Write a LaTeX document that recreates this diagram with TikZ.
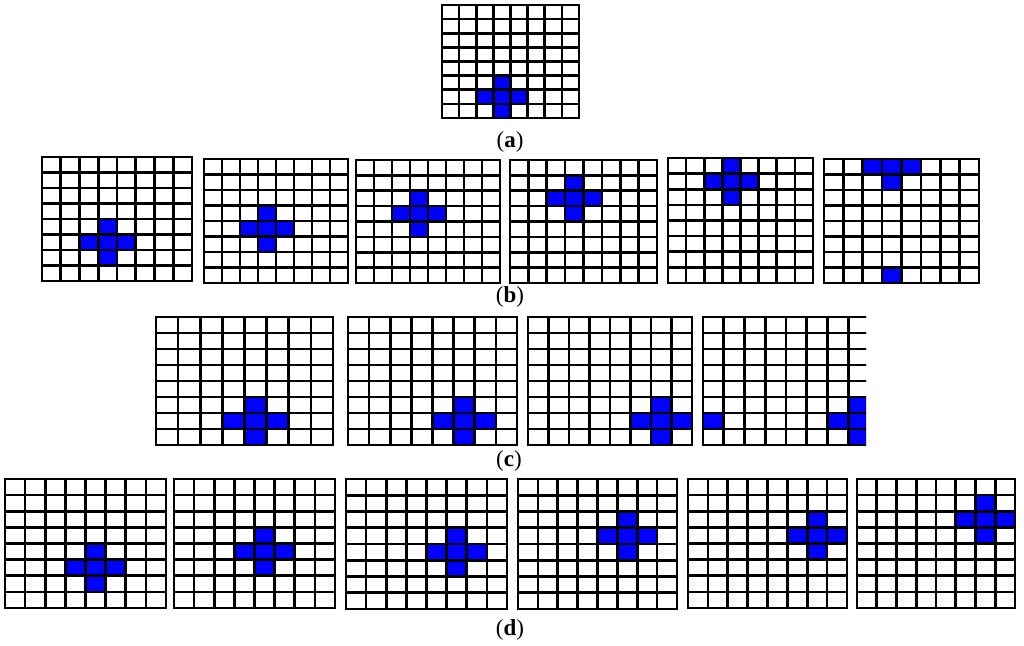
\documentclass[tikz,border=0pt]{standalone}
\usepackage{fontspec}
\setmainfont{Liberation Serif}
\definecolor{cellblue}{RGB}{0,0,255}
\tikzset{
  gridline/.style={black, line width=2.6pt, line cap=rect},
  bluecell/.style={fill=cellblue},
  caption/.style={font=\fontsize{23}{26}\selectfont, inner sep=0pt}
}
\newcommand{\gridpic}[5]{%
  \begin{scope}[shift={(#1,#2)}]
    \pgfmathsetmacro\gcw{(#3-#1)/8}
    \pgfmathsetmacro\gch{(#4-#2)/8}
    \foreach \c/\r in {#5} {\fill[bluecell] (\c*\gcw,\r*\gch) rectangle ++(\gcw,\gch);}
    \foreach \i in {0,...,8} {
      \draw[gridline] (\i*\gcw,0) -- (\i*\gcw,8*\gch);
      \draw[gridline] (0,\i*\gch) -- (8*\gcw,\i*\gch);
    }
  \end{scope}}
\begin{document}
\begin{tikzpicture}[x=1pt,y=-1pt]
  \useasboundingbox (0,0) rectangle (1024,645);
  \fill[white] (0,0) rectangle (1024,645);
  % (a)
  \gridpic{442}{5}{579}{118}{3/5,2/6,3/6,4/6,3/7}
  \node[caption] (la) at (510,142) {(\textbf{a})};
  % (b)
  \gridpic{42}{157}{192}{281}{3/4,2/5,3/5,4/5,3/6}
  \gridpic{204}{159}{348}{283}{3/3,2/4,3/4,4/4,3/5}
  \gridpic{356}{160}{500}{283}{3/2,2/3,3/3,4/3,3/4}
  \gridpic{510}{160}{657}{283}{3/1,2/2,3/2,4/2,3/3}
  \gridpic{668}{158}{813}{283}{3/0,2/1,3/1,4/1,3/2}
  \gridpic{824}{159}{979}{283}{2/0,3/0,4/0,3/1,3/7}
  \node[caption] (lb) at (510,297) {(\textbf{b})};
  % (c)
  \gridpic{156}{317}{333}{445}{4/5,3/6,4/6,5/6,4/7}
  \gridpic{348}{317}{517}{445}{5/5,4/6,5/6,6/6,5/7}
  \gridpic{528}{317}{692}{445}{6/5,5/6,6/6,7/6,6/7}
  \begin{scope}
    \clip (695,305) rectangle (866,455);
    \gridpic{703}{317}{869}{445}{7/5,6/6,7/6,0/6,7/7}
  \end{scope}
  \node[caption] (lc) at (509,461) {(\textbf{c})};
  % (d)
  \gridpic{5}{479}{166}{608}{4/4,3/5,4/5,5/5,4/6}
  \gridpic{174}{479}{335}{608}{4/3,3/4,4/4,5/4,4/5}
  \gridpic{346}{479}{507}{609}{5/3,4/4,5/4,6/4,5/5}
  \gridpic{518}{479}{677}{609}{5/2,4/3,5/3,6/3,5/4}
  \gridpic{688}{479}{847}{608}{6/2,5/3,6/3,7/3,6/4}
  \gridpic{857}{479}{1015}{608}{6/1,5/2,6/2,7/2,6/3}
  \node[caption] (ld) at (510,630) {(\textbf{d})};
\end{tikzpicture}
\end{document}
